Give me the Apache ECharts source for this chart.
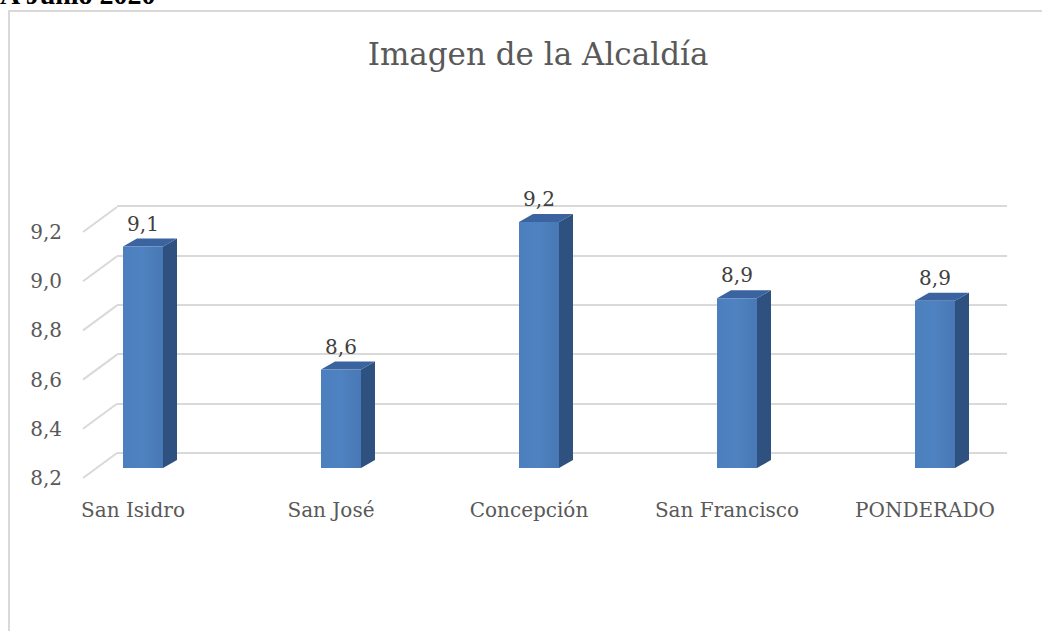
<!DOCTYPE html>
<html>
<head>
<meta charset="utf-8">
<script src="https://cdn.jsdelivr.net/npm/echarts@6/dist/echarts.min.js"></script>
<style>
  html, body { margin: 0; padding: 0; background: #ffffff; }
  #chart { width: 1042px; height: 631px; }
</style>
</head>
<body>
<div id="chart"></div>
<script>
// Survey scores per district
const categories = ['San Isidro', 'San José', 'Concepción', 'San Francisco', 'PONDERADO'];
const scores = [9.1, 8.6, 9.2, 8.89, 8.88];
const yTicks = [8.2, 8.4, 8.6, 8.8, 9.0, 9.2];
const yMin = 8.2;
const yMax = 9.2;
const yStep = 0.2;

const chartTitle = 'Imagen de la Alcaldía';
const pageHeading = 'A Junio 2020';

const serif = '"DejaVu Serif", "Liberation Serif", serif';
const fmt = v => Number(v).toFixed(1).replace('.', ',');

const chart = echarts.init(document.getElementById('chart'), null, { renderer: 'svg' });

// 3D column: front face, darker side face and top face
function renderColumn(params, api) {
  const i = api.value(0);
  const v = api.value(1);
  const topPt = api.coord([i, v]);
  const basePt = api.coord([i, yMin]);
  const cx = topPt[0] + 10;
  const yt = topPt[1] - 10;
  const yb = basePt[1] - 10;
  const hw = 20, dx = 14, dy = 8;
  return {
    type: 'group',
    children: [
      {
        type: 'polygon',
        shape: { points: [[cx + hw, yt], [cx + hw + dx, yt - dy], [cx + hw + dx, yb - dy], [cx + hw, yb]] },
        style: { fill: '#2f5180' }
      },
      {
        type: 'polygon',
        shape: { points: [[cx - hw, yt], [cx - hw + dx, yt - dy], [cx + hw + dx, yt - dy], [cx + hw, yt]] },
        style: { fill: '#3a63a0' }
      },
      {
        type: 'rect',
        shape: { x: cx - hw, y: yt, width: 2 * hw, height: yb - yt },
        style: {
          fill: {
            type: 'linear', x: 0, y: 0, x2: 1, y2: 0,
            colorStops: [
              { offset: 0, color: '#4b7fbe' },
              { offset: 0.5, color: '#4f82c0' },
              { offset: 1, color: '#4878b5' }
            ]
          }
        }
      },
      {
        type: 'text',
        style: {
          text: fmt(v), x: cx, y: yt - 23,
          align: 'center', verticalAlign: 'middle',
          font: '20px ' + serif, fill: '#404040'
        }
      }
    ]
  };
}

// Floor lines running from the front edge back to the rear wall
function renderFloorLine(params, api) {
  const p = api.coord([0, api.value(1)]);
  const x0 = params.coordSys.x + 49;
  return {
    type: 'line',
    shape: { x1: x0, y1: p[1], x2: x0 + 34, y2: p[1] - 25 },
    style: { stroke: '#d9d9d9', lineWidth: 2 }
  };
}

const option = {
  backgroundColor: '#ffffff',
  animation: false,
  graphic: [
    {
      type: 'rect',
      shape: { x: 9, y: 11, width: 1200, height: 800 },
      style: { fill: 'none', stroke: '#d9d9d9', lineWidth: 2 },
      z: -10
    },
    {
      type: 'text',
      x: 0, y: -6,
      style: {
        text: pageHeading, align: 'left', verticalAlign: 'middle',
        font: 'bold 28px "Liberation Serif", "Times New Roman", serif', fill: '#000000'
      }
    },
    {
      type: 'text',
      x: 538, y: 54,
      style: {
        text: chartTitle, align: 'center', verticalAlign: 'middle',
        font: '31px ' + serif, fill: '#595959'
      }
    }
  ],
  grid: [
    // front plane: category labels, value labels and columns
    { left: 34, right: 18, top: 232, bottom: 153 },
    // rear wall: horizontal gridlines
    { left: 117, right: 35, top: 206, bottom: 178 }
  ],
  xAxis: [
    {
      type: 'category', gridIndex: 0, data: categories, boundaryGap: true,
      axisLine: { show: false }, axisTick: { show: false },
      axisLabel: { margin: 22, fontFamily: serif, fontSize: 20, color: '#595959' }
    },
    { type: 'value', gridIndex: 1, show: false, min: 0, max: 1 }
  ],
  yAxis: [
    {
      type: 'value', gridIndex: 0, min: yMin, max: yMax, interval: yStep, offset: -36,
      axisLine: { show: false }, axisTick: { show: false }, splitLine: { show: false },
      axisLabel: { margin: 8, fontFamily: serif, fontSize: 20, color: '#595959', formatter: v => fmt(v) }
    },
    {
      type: 'value', gridIndex: 1, min: yMin, max: yMax, interval: yStep,
      axisLine: { show: false }, axisTick: { show: false }, axisLabel: { show: false },
      splitLine: { show: true, lineStyle: { color: '#d9d9d9', width: 2 } }
    }
  ],
  series: [
    {
      type: 'custom', xAxisIndex: 0, yAxisIndex: 0,
      data: yTicks.map(v => [0, v]),
      encode: { x: 0, y: 1 },
      renderItem: renderFloorLine,
      silent: true, z: 1
    },
    {
      type: 'custom', xAxisIndex: 0, yAxisIndex: 0,
      data: scores.map((v, i) => [i, v]),
      encode: { x: 0, y: 1 },
      renderItem: renderColumn,
      z: 5
    }
  ]
};

chart.setOption(option);
</script>
</body>
</html>
